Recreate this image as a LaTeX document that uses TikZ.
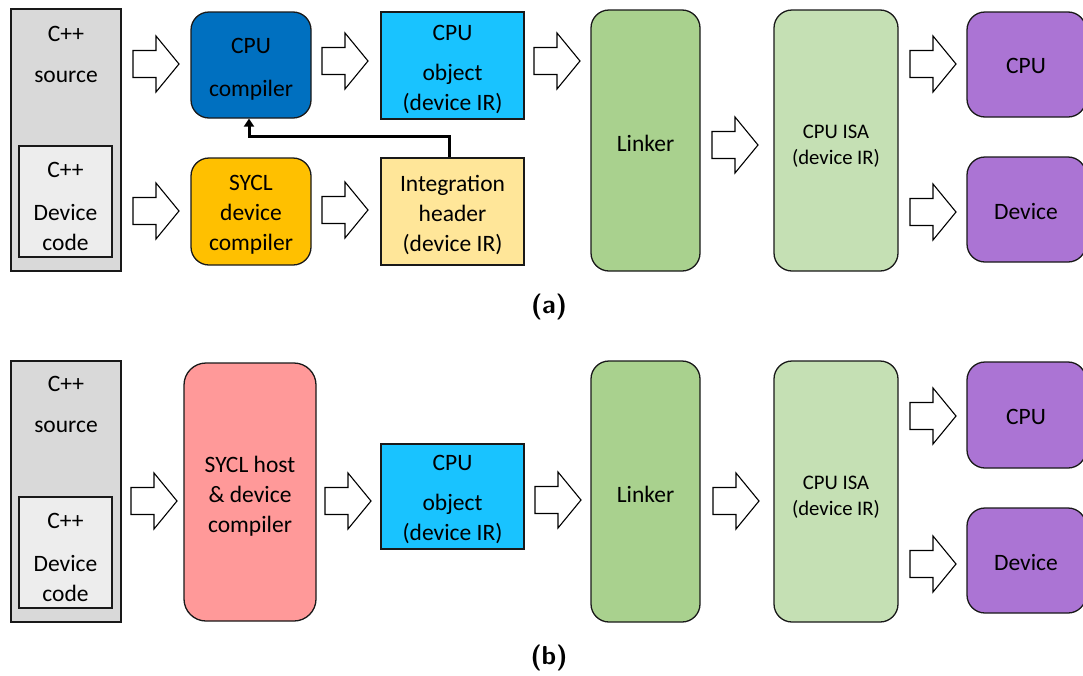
\documentclass[tikz,border=0pt]{standalone}
\usepackage{fontspec}
\setmainfont{Carlito}
\usetikzlibrary{arrows.meta}

\definecolor{srcgray}{HTML}{D9D9D9}
\definecolor{innergray}{HTML}{EDEDED}
\definecolor{cpublue}{HTML}{0070C0}
\definecolor{objcyan}{HTML}{19C3FF}
\definecolor{syclgold}{HTML}{FFC000}
\definecolor{hdryellow}{HTML}{FFE699}
\definecolor{linkgreen}{HTML}{A9D18E}
\definecolor{isagreen}{HTML}{C5E0B4}
\definecolor{devpurple}{HTML}{AB74D4}
\definecolor{hostpink}{HTML}{FF9999}

\begin{document}
\begin{tikzpicture}[x=1pt,y=-1pt,
  txt/.style={font=\fontsize{23.5}{30}\selectfont, align=center, inner sep=0pt},
  smalltxt/.style={font=\fontsize{20.7}{26}\selectfont, align=center, inner sep=0pt},
  sqbox/.style={draw=black!90, line width=1.3pt, inner sep=0pt},
  rbox/.style={sqbox, rounded corners=18pt},
  caption/.style={font=\fontsize{26}{30}\sffamily\bfseries\selectfont, inner sep=0pt},
  feedback/.style={line width=3pt, -{Triangle[length=8pt,width=10pt]}},
  blockarrow/.pic={\draw[line width=1.1pt, fill=white, line join=miter]
    (0,-13.5) -- (23,-13.5) -- (23,-28) -- (46,0) -- (23,28) -- (23,13.5) -- (0,13.5) -- cycle;}
]
\fill[white] (0,0) rectangle (1083,675);
\path[use as bounding box] (0,0) rectangle (1083,675);

% ---------------- (a) separate host and device compilers ----------------
\node[sqbox, fill=srcgray, minimum width=110pt, minimum height=262pt] (srcA) at (66,140) {};
\node[sqbox, fill=innergray, minimum width=93pt, minimum height=111pt] (devA) at (65.5,201.5) {};
\node[txt] (srcAtxt) at (66,54.5) {C++\\[11pt]source};
\node[txt] (devAtxt) at (65.5,206) {C++\\[13pt]Device\\code};

\node[rbox, fill=cpublue, minimum width=120pt, minimum height=106pt] (cpucA) at (251,65) {};
\node[txt] (cpucAtxt) at ([yshift=-4.5pt]cpucA.center) {CPU\\[13pt]compiler};
\node[sqbox, fill=objcyan, minimum width=143pt, minimum height=107pt] (objA) at (452.5,65.5) {};
\node[txt] (objAtxt) at ([yshift=-4pt]objA.center) {CPU\\[10pt]object\\(device IR)};
\node[rbox, fill=syclgold, minimum width=120pt, minimum height=107pt] (syclA) at (251,211.5) {};
\node[txt] (syclAtxt) at ([yshift=-3.5pt]syclA.center) {SYCL\\device\\compiler};
\node[sqbox, fill=hdryellow, minimum width=143pt, minimum height=107pt] (hdrA) at (452.5,211.5) {};
\node[txt] (hdrAtxt) at ([yshift=-3.5pt]hdrA.center) {Integration\\header\\(device IR)};
\node[rbox, fill=linkgreen, minimum width=109pt, minimum height=261pt] (linkA) at (645.5,140.5) {};
\node[txt] (linkAtxt) at (645.5,143) {Linker};
\node[rbox, fill=isagreen, minimum width=124pt, minimum height=261pt] (isaA) at (836,140.5) {};
\node[smalltxt] (isaAtxt) at (836,146) {CPU ISA\\(device IR)};
\begin{scope}
  \clip (0,0) rectangle (1083,675);
  \node[rbox, fill=devpurple, minimum width=119pt, minimum height=105pt] (cpuA) at (1026.5,64.5) {};
  \node[rbox, fill=devpurple, minimum width=119pt, minimum height=105pt] (deviceA) at (1026.5,209.5) {};
\end{scope}
\node[txt] (cpuAtxt) at (1026,66) {CPU};
\node[txt] (deviceAtxt) at (1026,211) {Device};

\pic at (133,64) {blockarrow};
\pic at (133,211) {blockarrow};
\pic at (322,61) {blockarrow};
\pic at (322,210) {blockarrow};
\pic at (534,61) {blockarrow};
\pic at (712,145) {blockarrow};
\pic at (910,64) {blockarrow};
\pic at (910,212) {blockarrow};

\draw[feedback] ([xshift=-3.5pt]hdrA.north) -- ++(0,-21) -| ([xshift=-2pt]cpucA.south);

\node[caption] (capA) at (549,307) {(a)};

% ---------------- (b) single-source host and device compiler ----------------
\node[sqbox, fill=srcgray, minimum width=110pt, minimum height=261pt] (srcB) at (66,491.5) {};
\node[sqbox, fill=innergray, minimum width=93pt, minimum height=111pt] (devB) at (65.5,552.5) {};
\node[txt] (srcBtxt) at (66,404.5) {C++\\[11pt]source};
\node[txt] (devBtxt) at (65.5,557) {C++\\[13pt]Device\\code};

\node[rbox, rounded corners=22pt, fill=hostpink, minimum width=132pt, minimum height=258pt] (hostB) at (250,492) {};
\node[txt] (hostBtxt) at (250,496) {SYCL host\\\& device\\compiler};
\node[sqbox, fill=objcyan, minimum width=143pt, minimum height=105pt] (objB) at (452.5,496.5) {};
\node[txt] (objBtxt) at (452.5,499.5) {CPU\\[10pt]object\\(device IR)};
\node[rbox, fill=linkgreen, minimum width=109pt, minimum height=261pt] (linkB) at (645.5,491.5) {};
\node[txt] (linkBtxt) at (645.5,494) {Linker};
\node[rbox, fill=isagreen, minimum width=124pt, minimum height=261pt] (isaB) at (836,491.5) {};
\node[smalltxt] (isaBtxt) at (836,497) {CPU ISA\\(device IR)};
\begin{scope}
  \clip (0,0) rectangle (1083,675);
  \node[rbox, fill=devpurple, minimum width=119pt, minimum height=106pt] (cpuB) at (1026.5,415) {};
  \node[rbox, fill=devpurple, minimum width=119pt, minimum height=105pt] (deviceB) at (1026.5,560.5) {};
\end{scope}
\node[txt] (cpuBtxt) at (1026,417) {CPU};
\node[txt] (deviceBtxt) at (1026,562) {Device};

\pic at (131,501) {blockarrow};
\pic at (325,501) {blockarrow};
\pic at (535,500) {blockarrow};
\pic at (713,501) {blockarrow};
\pic at (910,416) {blockarrow};
\pic at (910,564) {blockarrow};

\node[caption] (capB) at (549,658) {(b)};
\end{tikzpicture}
\end{document}
